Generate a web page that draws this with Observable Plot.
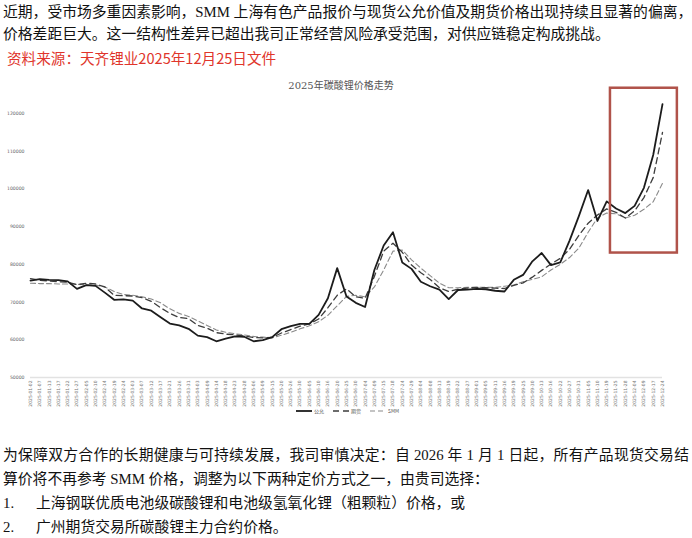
<!DOCTYPE html>
<html>
<head>
<meta charset="utf-8">
<script src="https://cdn.jsdelivr.net/npm/d3@7"></script>
<script src="https://cdn.jsdelivr.net/npm/@observablehq/plot@0.6"></script>
<style>
  body { margin: 0; background: #fff; }
  #page { position: relative; width: 692px; height: 538px; overflow: hidden; background: #fff;
          font-family: "Liberation Serif", "Noto Sans CJK SC", serif; color: #111; }
  .ln { position: absolute; font-size: 14.8px; line-height: 20px; white-space: nowrap; }
  .just { text-align: justify; text-align-last: justify; }
  #src { font-family: "Noto Sans CJK SC", sans-serif; color: #e0352b; font-size: 14.6px; }
  #ctitle { position: absolute; top: 77px; left: 0; width: 682px; text-align: center;
            font-size: 10px; color: #555; font-family: "DejaVu Serif", "Noto Sans CJK SC", serif; }
  #chart { position: absolute; top: 70px; left: 0; }
  #legend { position: absolute; top: 407px; left: 296px; font-size: 5px; color: #555;
            font-family: "Noto Sans CJK SC", sans-serif; display: flex; align-items: center; gap: 3px; }
  #legend span.item { display: inline-flex; align-items: center; gap: 2px; margin-right: 6px; }
</style>
</head>
<body>
<div id="page">
  <div class="ln just" style="top:2px;left:3px;width:686px;">近期，受市场多重因素影响，SMM 上海有色产品报价与现货公允价值及期货价格出现持续且显著的偏离，</div>
  <div class="ln" style="top:24px;left:3px;">价格差距巨大。这一结构性差异已超出我司正常经营风险承受范围，对供应链稳定构成挑战。</div>
  <div class="ln" id="src" style="top:48px;left:7px;">资料来源：天齐锂业2025年12月25日文件</div>
  <div id="ctitle">2025年碳酸锂价格走势</div>
  <div id="chart"></div>
  <div id="legend"></div>
  <div class="ln just" style="top:445px;left:3px;width:686px;">为保障双方合作的长期健康与可持续发展，我司审慎决定：自 2026 年 1 月 1 日起，所有产品现货交易结</div>
  <div class="ln" style="top:469px;left:3px;">算价将不再参考 SMM 价格，调整为以下两种定价方式之一，由贵司选择：</div>
  <div class="ln" style="top:493px;left:3px;">1.</div>
  <div class="ln" style="top:493px;left:36px;">上海钢联优质电池级碳酸锂和电池级氢氧化锂（粗颗粒）价格，或</div>
  <div class="ln" style="top:517px;left:3px;">2.</div>
  <div class="ln" style="top:517px;left:36px;">广州期货交易所碳酸锂主力合约价格。</div>
</div>
<script>
// ---- data ----
const dates = [
  "2025-01-02","2025-01-07","2025-01-13","2025-01-17","2025-01-22","2025-01-27",
  "2025-02-05","2025-02-10","2025-02-14","2025-02-19","2025-02-24",
  "2025-03-03","2025-03-07","2025-03-12","2025-03-17","2025-03-21","2025-03-26","2025-03-31",
  "2025-04-03","2025-04-09","2025-04-14","2025-04-18","2025-04-23","2025-04-28",
  "2025-05-06","2025-05-09","2025-05-15","2025-05-20","2025-05-26","2025-05-30",
  "2025-06-05","2025-06-10","2025-06-16","2025-06-20","2025-06-25","2025-06-30",
  "2025-07-04","2025-07-09","2025-07-15","2025-07-18","2025-07-24","2025-07-29",
  "2025-08-04","2025-08-08","2025-08-13","2025-08-19","2025-08-22","2025-08-27",
  "2025-09-01","2025-09-05","2025-09-11","2025-09-16","2025-09-19","2025-09-25","2025-09-30",
  "2025-10-13","2025-10-16","2025-10-22","2025-10-27","2025-10-31",
  "2025-11-05","2025-11-10","2025-11-19","2025-11-25","2025-11-28",
  "2025-12-04","2025-12-09","2025-12-17","2025-12-24"
];
const fairValue = [
  75700,76100,75900,75800,75500,73500,74500,74300,72500,70600,70700,70400,68300,67700,66000,
  64300,63800,62900,61100,60700,59600,60300,60900,60800,59600,59900,60700,62800,63600,64200,
  64200,66600,71000,79000,71500,69800,68700,78500,85000,88500,80500,78800,75400,74200,73300,
  70800,73200,73300,73500,73400,73000,72800,75900,77200,80800,83000,79800,80500,86300,92800,
  99700,91500,96700,94800,93600,95500,100300,109000,122500
];
const futures = [
  76200,75800,75600,75400,75300,74600,75000,74800,74000,71800,71700,71600,71200,70200,68500,
  67000,65900,65600,63800,63100,61900,61500,61300,61000,60600,60500,60600,61800,62700,63600,
  64200,65500,68500,71800,73500,71400,71000,76800,83500,85600,83200,79800,77800,76000,73800,
  72800,73400,73700,73900,73800,73700,73600,74400,75100,76600,78400,80100,81600,84000,87700,
  90900,93100,94700,93800,92300,94200,97700,103000,115000
];
const smm = [
  75000,74900,74900,74800,74800,74700,74600,74500,74000,72800,72000,71800,71400,70800,69800,
  68200,67000,66200,65000,63800,62600,62000,61600,61300,60900,60700,60500,61200,62000,62900,
  63700,64800,66500,69000,71500,71800,71400,74000,78500,83500,83800,81200,79000,77000,75000,
  73800,73800,73900,73900,73900,73900,74200,74500,75400,76000,76700,78500,80000,81800,84300,
  88500,92300,93600,93400,92300,93000,94600,96600,101500
];
const seriesNames = ["公允", "期货", "SMM"];
const yTicks = [50000, 60000, 70000, 80000, 90000, 100000, 110000, 120000];
// highlighted region (index units along x, price units along y)
const highlight = [{from: 62.4, to: 69.6, low: 83000, high: 126700}];

// ---- styles ----
const styles = [
  {stroke: "#1c1c1c", dash: null, width: 1.8},
  {stroke: "#3d3d3d", dash: "6,4", width: 1.3},
  {stroke: "#8a8a8a", dash: "5,3", width: 1.1}
];
const valuesBySeries = [fairValue, futures, smm];
const idx = dates.map((d, i) => i);

const chart = Plot.plot({
  width: 692,
  height: 350,
  marginLeft: 30,
  marginRight: 30,
  marginTop: 43,
  marginBottom: 43,
  x: {type: "linear", domain: [0, dates.length - 1]},
  y: {domain: [50000, 120000]},
  style: {background: "transparent", fontFamily: "DejaVu Sans, sans-serif"},
  marks: [
    Plot.ruleY([50000], {stroke: "#e2e2e2", strokeWidth: 1.5}),
    Plot.axisY({ticks: yTicks, tickSize: 0, tickPadding: 6, fontSize: 4.6, color: "#666",
                tickFormat: d => String(d), label: null}),
    Plot.axisX({ticks: idx, tickFormat: i => dates[i], tickRotate: -90, tickSize: 0,
                tickPadding: 3, fontSize: 4.5, color: "#777", label: null}),
    ...[2, 1, 0].map(s => Plot.line(idx, {
      x: i => i, y: i => valuesBySeries[s][i],
      stroke: styles[s].stroke, strokeWidth: styles[s].width,
      strokeDasharray: styles[s].dash, curve: "linear"
    })),
    Plot.rect(highlight, {x1: "from", x2: "to", y1: "low", y2: "high",
                          fill: "none", stroke: "#b0534a", strokeWidth: 2.5})
  ]
});
document.getElementById("chart").appendChild(chart);

// legend
const lg = document.getElementById("legend");
seriesNames.forEach((name, s) => {
  const item = document.createElement("span");
  item.className = "item";
  const st = styles[s];
  item.innerHTML = `<svg width="16" height="4"><line x1="0" y1="2" x2="16" y2="2" stroke="${st.stroke}" stroke-width="${st.width}" ${st.dash ? `stroke-dasharray="${st.dash}"` : ""}/></svg><span>${name}</span>`;
  lg.appendChild(item);
});
</script>
</body>
</html>
